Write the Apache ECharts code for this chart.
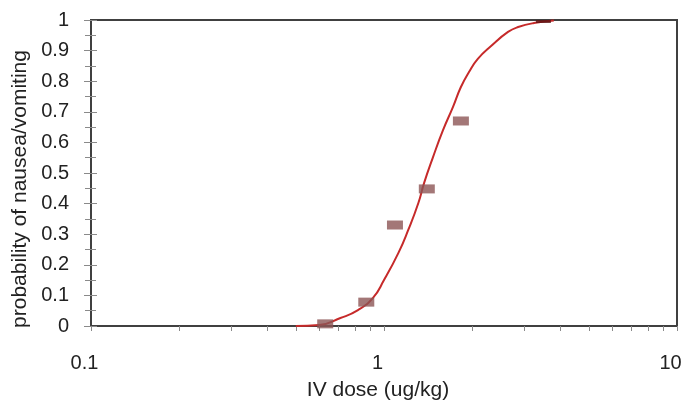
<!DOCTYPE html>
<html>
<head>
<meta charset="utf-8">
<script src="https://cdn.jsdelivr.net/npm/echarts@6/dist/echarts.min.js"></script>
<style>
  html, body { margin: 0; padding: 0; background: #fff; }
  #chart { width: 684px; height: 400px; }
</style>
</head>
<body>
<div id="chart"></div>
<script>
// observed points (dose ug/kg, fraction with nausea/vomiting)
const obsDose = [0.63, 0.87, 1.09, 1.40, 1.83, 3.5];
const obsProb = [0.007, 0.078, 0.33, 0.448, 0.67, 1.0];

// fitted curve
const fitDose = [0.50, 0.60, 0.71, 0.815, 0.917, 1.0, 1.12, 1.21, 1.31, 1.37, 1.47, 1.59, 1.72, 1.83, 1.95, 2.09, 2.32, 2.65, 2.87, 3.25, 3.8];
const fitProb = [0.0, 0.003, 0.026, 0.052, 0.092, 0.15, 0.239, 0.314, 0.402, 0.467, 0.552, 0.64, 0.716, 0.781, 0.83, 0.873, 0.915, 0.961, 0.977, 0.99, 0.998];

// minor ticks on the dose axis
const minorDose = [0.2, 0.3, 0.4, 0.5, 0.6, 0.7, 0.8, 0.9, 2, 3, 4, 5, 6, 7, 8, 9];

const xTitle = 'IV dose (ug/kg)';
const yTitle = 'probability of nausea/vomiting';

(function(){
  const chart = echarts.init(document.getElementById('chart'), null, { renderer: 'canvas' });
  const font = '"Liberation Sans", Arial, sans-serif';
  const lineCol = '#404040';
  const tickCol = '#8a8a8a';
  const gridW = 586;

  const pts = obsDose.map((d, i) => {
    const p = { value: [d, obsProb[i]] };
    // a point sitting on the top border only shows its lower half
    if (obsProb[i] >= 1) {
      p.symbolSize = [15, 3];
      p.symbolOffset = [0, 1.5];
      p.itemStyle = { color: '#5a1414' };
    }
    return p;
  });

  chart.setOption({
    animation: false,
    grid: {
      left: 91, top: 20, width: gridW, height: 306,
      outerBoundsMode: 'none', containLabel: false,
      show: true, borderColor: lineCol, borderWidth: 2, backgroundColor: 'transparent'
    },
    xAxis: [{
      type: 'log', logBase: 10, min: 0.1, max: 10,
      name: xTitle, nameLocation: 'middle', nameGap: 54,
      nameTextStyle: { fontFamily: font, fontSize: 21, color: '#222', padding: [0, 12, 0, 0] },
      axisLine: { onZero: false, lineStyle: { color: lineCol, width: 2 } },
      axisTick: { length: 5, lineStyle: { color: tickCol } },
      axisLabel: { fontFamily: font, fontSize: 20, color: '#222', margin: 27, padding: [0, 13, 0, 0] },
      splitLine: { show: false }, minorSplitLine: { show: false }
    }, {
      type: 'value', min: -1, max: 1, position: 'bottom',
      axisLine: { show: false, onZero: false },
      axisTick: { show: true, length: 5, customValues: minorDose.map(v => Math.log10(v)), lineStyle: { color: tickCol } },
      axisLabel: { show: false }, splitLine: { show: false }
    }],
    yAxis: [{
      type: 'value', min: 0, max: 1, interval: 0.1,
      name: yTitle, nameLocation: 'middle', nameGap: 58,
      nameTextStyle: { fontFamily: font, fontSize: 21, color: '#222', padding: [0, 32, 0, 0] },
      axisLine: { show: true, onZero: false, lineStyle: { color: lineCol, width: 2 } },
      axisTick: { show: true, length: 7, lineStyle: { color: tickCol } },
      minorTick: { show: true, splitNumber: 2, length: 6, lineStyle: { color: tickCol } },
      axisLabel: { fontFamily: font, fontSize: 20, color: '#222', margin: 22 },
      splitLine: { show: false }
    }, {
      // second set of ticks pointing into the plot, moved over onto the left edge
      type: 'value', min: 0, max: 1, interval: 0.1, position: 'right', offset: -gridW,
      axisLine: { show: false, onZero: false },
      axisTick: { show: true, length: 6, lineStyle: { color: tickCol } },
      minorTick: { show: true, splitNumber: 2, length: 5, lineStyle: { color: tickCol } },
      axisLabel: { show: false }, splitLine: { show: false }
    }],
    series: [{
      type: 'line',
      data: fitDose.map((d, i) => [d, fitProb[i]]),
      smooth: 0.5, showSymbol: false,
      lineStyle: { color: '#c62a2a', width: 2 },
      z: 3
    }, {
      type: 'scatter',
      data: pts,
      symbol: 'rect', symbolSize: [16, 9],
      itemStyle: { color: '#8c5555' },
      z: 4
    }]
  });
})();
</script>
</body>
</html>
